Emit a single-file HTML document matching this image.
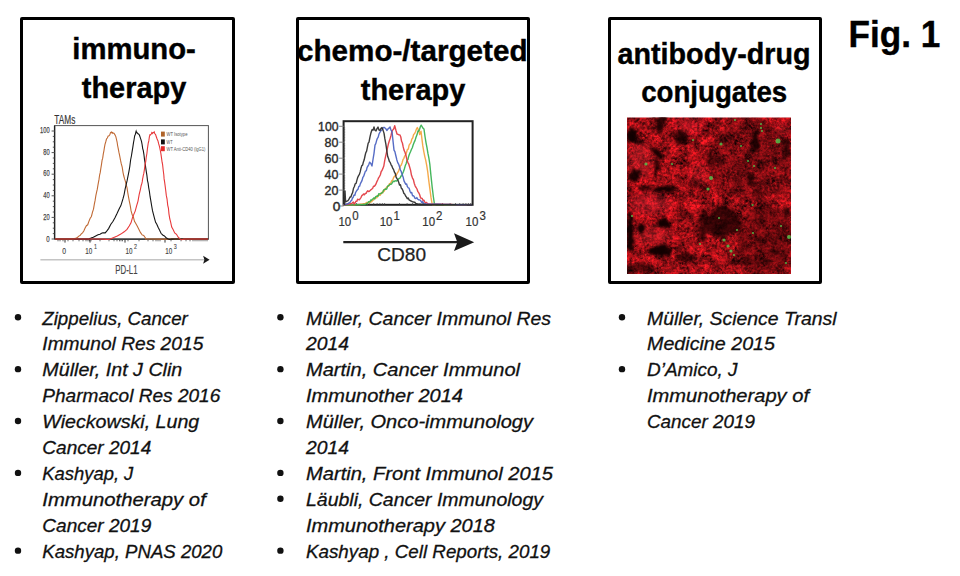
<!DOCTYPE html>
<html><head><meta charset="utf-8"><title>Fig. 1</title>
<style>
html,body{margin:0;padding:0;background:#fff;}
body{width:960px;height:576px;position:relative;overflow:hidden;font-family:"Liberation Sans",sans-serif;}
.box{position:absolute;border:3px solid #000;box-sizing:border-box;border-radius:2px;}
svg{position:absolute;left:0;top:0;overflow:visible;}
</style></head><body>
<div class="box" style="left:20px;top:17px;width:214.5px;height:266.7px"></div>
<div class="box" style="left:296px;top:17px;width:234px;height:266.7px"></div>
<div class="box" style="left:607.5px;top:17px;width:214.5px;height:266.7px"></div>
<svg width="960" height="576" viewBox="0 0 960 576">
<text x="72.3" y="59.4" font-family="Liberation Sans" font-weight="bold" font-size="29" textLength="123.5" lengthAdjust="spacingAndGlyphs" fill="#000" stroke="#000" stroke-width="0.4">immuno-</text>
<text x="81.8" y="98" font-family="Liberation Sans" font-weight="bold" font-size="29" textLength="104.5" lengthAdjust="spacingAndGlyphs" fill="#000" stroke="#000" stroke-width="0.4">therapy</text>
<text x="297" y="61.25" font-family="Liberation Sans" font-weight="bold" font-size="29" textLength="230.5" lengthAdjust="spacingAndGlyphs" fill="#000" stroke="#000" stroke-width="0.4">chemo-/targeted</text>
<text x="360.8" y="100.1" font-family="Liberation Sans" font-weight="bold" font-size="29" textLength="104.5" lengthAdjust="spacingAndGlyphs" fill="#000" stroke="#000" stroke-width="0.4">therapy</text>
<text x="617.5" y="63.5" font-family="Liberation Sans" font-weight="bold" font-size="29" textLength="193" lengthAdjust="spacingAndGlyphs" fill="#000" stroke="#000" stroke-width="0.4">antibody-drug</text>
<text x="641.2" y="101.7" font-family="Liberation Sans" font-weight="bold" font-size="29" textLength="146" lengthAdjust="spacingAndGlyphs" fill="#000" stroke="#000" stroke-width="0.4">conjugates</text>
<text x="848.5" y="46.9" font-family="Liberation Sans" font-weight="bold" font-size="37" textLength="91.7" lengthAdjust="spacingAndGlyphs" fill="#000" stroke="#000" stroke-width="0.4">Fig. 1</text>
<text x="42.3" y="324.50" font-family="Liberation Sans" font-style="italic" font-size="19" textLength="145.5" lengthAdjust="spacingAndGlyphs" fill="#111" stroke="#111" stroke-width="0.3">Zippelius, Cancer</text>
<circle cx="18" cy="317.30" r="3.2" fill="#111"/>
<text x="42.3" y="350.43" font-family="Liberation Sans" font-style="italic" font-size="19" textLength="161" lengthAdjust="spacingAndGlyphs" fill="#111" stroke="#111" stroke-width="0.3">Immunol Res 2015</text>
<text x="42.3" y="376.36" font-family="Liberation Sans" font-style="italic" font-size="19" textLength="140" lengthAdjust="spacingAndGlyphs" fill="#111" stroke="#111" stroke-width="0.3">Müller, Int J Clin</text>
<circle cx="18" cy="369.16" r="3.2" fill="#111"/>
<text x="42.3" y="402.29" font-family="Liberation Sans" font-style="italic" font-size="19" textLength="178" lengthAdjust="spacingAndGlyphs" fill="#111" stroke="#111" stroke-width="0.3">Pharmacol Res 2016</text>
<text x="42.3" y="428.22" font-family="Liberation Sans" font-style="italic" font-size="19" textLength="157" lengthAdjust="spacingAndGlyphs" fill="#111" stroke="#111" stroke-width="0.3">Wieckowski, Lung</text>
<circle cx="18" cy="421.02" r="3.2" fill="#111"/>
<text x="42.3" y="454.15" font-family="Liberation Sans" font-style="italic" font-size="19" textLength="109" lengthAdjust="spacingAndGlyphs" fill="#111" stroke="#111" stroke-width="0.3">Cancer 2014</text>
<text x="42.3" y="480.08" font-family="Liberation Sans" font-style="italic" font-size="19" textLength="91" lengthAdjust="spacingAndGlyphs" fill="#111" stroke="#111" stroke-width="0.3">Kashyap, J</text>
<circle cx="18" cy="472.88" r="3.2" fill="#111"/>
<text x="42.3" y="506.01" font-family="Liberation Sans" font-style="italic" font-size="19" textLength="163.5" lengthAdjust="spacingAndGlyphs" fill="#111" stroke="#111" stroke-width="0.3">Immunotherapy of</text>
<text x="42.3" y="531.94" font-family="Liberation Sans" font-style="italic" font-size="19" textLength="109" lengthAdjust="spacingAndGlyphs" fill="#111" stroke="#111" stroke-width="0.3">Cancer 2019</text>
<text x="42.3" y="557.87" font-family="Liberation Sans" font-style="italic" font-size="19" textLength="180" lengthAdjust="spacingAndGlyphs" fill="#111" stroke="#111" stroke-width="0.3">Kashyap, PNAS 2020</text>
<circle cx="18" cy="550.67" r="3.2" fill="#111"/>
<text x="306" y="324.50" font-family="Liberation Sans" font-style="italic" font-size="19" textLength="245" lengthAdjust="spacingAndGlyphs" fill="#111" stroke="#111" stroke-width="0.3">Müller, Cancer Immunol Res</text>
<circle cx="280.4" cy="317.30" r="3.2" fill="#111"/>
<text x="306" y="350.43" font-family="Liberation Sans" font-style="italic" font-size="19" textLength="43" lengthAdjust="spacingAndGlyphs" fill="#111" stroke="#111" stroke-width="0.3">2014</text>
<text x="306" y="376.36" font-family="Liberation Sans" font-style="italic" font-size="19" textLength="214" lengthAdjust="spacingAndGlyphs" fill="#111" stroke="#111" stroke-width="0.3">Martin, Cancer Immunol</text>
<circle cx="280.4" cy="369.16" r="3.2" fill="#111"/>
<text x="306" y="402.29" font-family="Liberation Sans" font-style="italic" font-size="19" textLength="157" lengthAdjust="spacingAndGlyphs" fill="#111" stroke="#111" stroke-width="0.3">Immunother 2014</text>
<text x="306" y="428.22" font-family="Liberation Sans" font-style="italic" font-size="19" textLength="227" lengthAdjust="spacingAndGlyphs" fill="#111" stroke="#111" stroke-width="0.3">Müller, Onco-immunology</text>
<circle cx="280.4" cy="421.02" r="3.2" fill="#111"/>
<text x="306" y="454.15" font-family="Liberation Sans" font-style="italic" font-size="19" textLength="43" lengthAdjust="spacingAndGlyphs" fill="#111" stroke="#111" stroke-width="0.3">2014</text>
<text x="306" y="480.08" font-family="Liberation Sans" font-style="italic" font-size="19" textLength="247" lengthAdjust="spacingAndGlyphs" fill="#111" stroke="#111" stroke-width="0.3">Martin, Front Immunol 2015</text>
<circle cx="280.4" cy="472.88" r="3.2" fill="#111"/>
<text x="306" y="506.01" font-family="Liberation Sans" font-style="italic" font-size="19" textLength="237" lengthAdjust="spacingAndGlyphs" fill="#111" stroke="#111" stroke-width="0.3">Läubli, Cancer Immunology</text>
<circle cx="280.4" cy="498.81" r="3.2" fill="#111"/>
<text x="306" y="531.94" font-family="Liberation Sans" font-style="italic" font-size="19" textLength="189" lengthAdjust="spacingAndGlyphs" fill="#111" stroke="#111" stroke-width="0.3">Immunotherapy 2018</text>
<text x="306" y="557.87" font-family="Liberation Sans" font-style="italic" font-size="19" textLength="244.3" lengthAdjust="spacingAndGlyphs" fill="#111" stroke="#111" stroke-width="0.3">Kashyap , Cell Reports, 2019</text>
<circle cx="280.4" cy="550.67" r="3.2" fill="#111"/>
<text x="647" y="324.50" font-family="Liberation Sans" font-style="italic" font-size="19" textLength="189.5" lengthAdjust="spacingAndGlyphs" fill="#111" stroke="#111" stroke-width="0.3">Müller, Science Transl</text>
<circle cx="622" cy="317.30" r="3.2" fill="#111"/>
<text x="647" y="350.43" font-family="Liberation Sans" font-style="italic" font-size="19" textLength="128" lengthAdjust="spacingAndGlyphs" fill="#111" stroke="#111" stroke-width="0.3">Medicine 2015</text>
<text x="647" y="376.36" font-family="Liberation Sans" font-style="italic" font-size="19" textLength="90.5" lengthAdjust="spacingAndGlyphs" fill="#111" stroke="#111" stroke-width="0.3">D’Amico, J</text>
<circle cx="622" cy="369.16" r="3.2" fill="#111"/>
<text x="647" y="402.29" font-family="Liberation Sans" font-style="italic" font-size="19" textLength="162" lengthAdjust="spacingAndGlyphs" fill="#111" stroke="#111" stroke-width="0.3">Immunotherapy of</text>
<text x="647" y="428.22" font-family="Liberation Sans" font-style="italic" font-size="19" textLength="108" lengthAdjust="spacingAndGlyphs" fill="#111" stroke="#111" stroke-width="0.3">Cancer 2019</text>
<text x="54.3" y="123.6" font-family="Liberation Sans" font-size="12.3" textLength="21" lengthAdjust="spacingAndGlyphs" fill="#333" stroke="#333" stroke-width="0.15">TAMs</text>
<rect x="54.6" y="125.6" width="153.8" height="113.5" fill="none" stroke="#555" stroke-width="1"/>
<line x1="54.6" y1="125.6" x2="54.6" y2="239.1" stroke="#222" stroke-width="1.4"/>
<line x1="54.6" y1="239.1" x2="208.4" y2="239.1" stroke="#222" stroke-width="1.4"/>
<line x1="51.6" y1="239.0" x2="54.6" y2="239.0" stroke="#555" stroke-width="1"/>
<text x="46.2" y="241.8" font-family="Liberation Sans" font-size="9.6" textLength="3.4" lengthAdjust="spacingAndGlyphs" fill="#444" stroke="#444" stroke-width="0.25">0</text>
<line x1="51.6" y1="217.4" x2="54.6" y2="217.4" stroke="#555" stroke-width="1"/>
<text x="43.2" y="220.0" font-family="Liberation Sans" font-size="9.6" textLength="6.4" lengthAdjust="spacingAndGlyphs" fill="#444" stroke="#444" stroke-width="0.25">20</text>
<line x1="51.6" y1="195.8" x2="54.6" y2="195.8" stroke="#555" stroke-width="1"/>
<text x="43.2" y="198.2" font-family="Liberation Sans" font-size="9.6" textLength="6.4" lengthAdjust="spacingAndGlyphs" fill="#444" stroke="#444" stroke-width="0.25">40</text>
<line x1="51.6" y1="174.2" x2="54.6" y2="174.2" stroke="#555" stroke-width="1"/>
<text x="43.2" y="176.3" font-family="Liberation Sans" font-size="9.6" textLength="6.4" lengthAdjust="spacingAndGlyphs" fill="#444" stroke="#444" stroke-width="0.25">60</text>
<line x1="51.6" y1="152.6" x2="54.6" y2="152.6" stroke="#555" stroke-width="1"/>
<text x="43.2" y="154.5" font-family="Liberation Sans" font-size="9.6" textLength="6.4" lengthAdjust="spacingAndGlyphs" fill="#444" stroke="#444" stroke-width="0.25">80</text>
<line x1="51.6" y1="131.0" x2="54.6" y2="131.0" stroke="#555" stroke-width="1"/>
<text x="40.0" y="132.6" font-family="Liberation Sans" font-size="9.6" textLength="9.6" lengthAdjust="spacingAndGlyphs" fill="#444" stroke="#444" stroke-width="0.25">100</text>
<line x1="52.800000000000004" y1="233.6" x2="54.6" y2="233.6" stroke="#444" stroke-width="0.9"/>
<line x1="52.800000000000004" y1="228.2" x2="54.6" y2="228.2" stroke="#444" stroke-width="0.9"/>
<line x1="52.800000000000004" y1="222.8" x2="54.6" y2="222.8" stroke="#444" stroke-width="0.9"/>
<line x1="52.800000000000004" y1="212.0" x2="54.6" y2="212.0" stroke="#444" stroke-width="0.9"/>
<line x1="52.800000000000004" y1="206.6" x2="54.6" y2="206.6" stroke="#444" stroke-width="0.9"/>
<line x1="52.800000000000004" y1="201.2" x2="54.6" y2="201.2" stroke="#444" stroke-width="0.9"/>
<line x1="52.800000000000004" y1="190.4" x2="54.6" y2="190.4" stroke="#444" stroke-width="0.9"/>
<line x1="52.800000000000004" y1="185.0" x2="54.6" y2="185.0" stroke="#444" stroke-width="0.9"/>
<line x1="52.800000000000004" y1="179.6" x2="54.6" y2="179.6" stroke="#444" stroke-width="0.9"/>
<line x1="52.800000000000004" y1="168.8" x2="54.6" y2="168.8" stroke="#444" stroke-width="0.9"/>
<line x1="52.800000000000004" y1="163.4" x2="54.6" y2="163.4" stroke="#444" stroke-width="0.9"/>
<line x1="52.800000000000004" y1="158.0" x2="54.6" y2="158.0" stroke="#444" stroke-width="0.9"/>
<line x1="52.800000000000004" y1="147.2" x2="54.6" y2="147.2" stroke="#444" stroke-width="0.9"/>
<line x1="52.800000000000004" y1="141.8" x2="54.6" y2="141.8" stroke="#444" stroke-width="0.9"/>
<line x1="52.800000000000004" y1="136.4" x2="54.6" y2="136.4" stroke="#444" stroke-width="0.9"/>
<line x1="58" y1="239.1" x2="58" y2="241.29999999999998" stroke="#444" stroke-width="0.8"/>
<line x1="60" y1="239.1" x2="60" y2="241.29999999999998" stroke="#444" stroke-width="0.8"/>
<line x1="63" y1="239.1" x2="63" y2="241.29999999999998" stroke="#444" stroke-width="0.8"/>
<line x1="68" y1="239.1" x2="68" y2="241.29999999999998" stroke="#444" stroke-width="0.8"/>
<line x1="73" y1="239.1" x2="73" y2="241.29999999999998" stroke="#444" stroke-width="0.8"/>
<line x1="79" y1="239.1" x2="79" y2="241.29999999999998" stroke="#444" stroke-width="0.8"/>
<line x1="83" y1="239.1" x2="83" y2="241.29999999999998" stroke="#444" stroke-width="0.8"/>
<line x1="86" y1="239.1" x2="86" y2="241.29999999999998" stroke="#444" stroke-width="0.8"/>
<line x1="88" y1="239.1" x2="88" y2="241.29999999999998" stroke="#444" stroke-width="0.8"/>
<line x1="89.5" y1="239.1" x2="89.5" y2="241.29999999999998" stroke="#444" stroke-width="0.8"/>
<line x1="91" y1="239.1" x2="91" y2="241.29999999999998" stroke="#444" stroke-width="0.8"/>
<line x1="100" y1="239.1" x2="100" y2="241.29999999999998" stroke="#444" stroke-width="0.8"/>
<line x1="109" y1="239.1" x2="109" y2="241.29999999999998" stroke="#444" stroke-width="0.8"/>
<line x1="114" y1="239.1" x2="114" y2="241.29999999999998" stroke="#444" stroke-width="0.8"/>
<line x1="117" y1="239.1" x2="117" y2="241.29999999999998" stroke="#444" stroke-width="0.8"/>
<line x1="119.5" y1="239.1" x2="119.5" y2="241.29999999999998" stroke="#444" stroke-width="0.8"/>
<line x1="121" y1="239.1" x2="121" y2="241.29999999999998" stroke="#444" stroke-width="0.8"/>
<line x1="122.5" y1="239.1" x2="122.5" y2="241.29999999999998" stroke="#444" stroke-width="0.8"/>
<line x1="128" y1="239.1" x2="128" y2="241.29999999999998" stroke="#444" stroke-width="0.8"/>
<line x1="139" y1="239.1" x2="139" y2="241.29999999999998" stroke="#444" stroke-width="0.8"/>
<line x1="148" y1="239.1" x2="148" y2="241.29999999999998" stroke="#444" stroke-width="0.8"/>
<line x1="153" y1="239.1" x2="153" y2="241.29999999999998" stroke="#444" stroke-width="0.8"/>
<line x1="156" y1="239.1" x2="156" y2="241.29999999999998" stroke="#444" stroke-width="0.8"/>
<line x1="158" y1="239.1" x2="158" y2="241.29999999999998" stroke="#444" stroke-width="0.8"/>
<line x1="160" y1="239.1" x2="160" y2="241.29999999999998" stroke="#444" stroke-width="0.8"/>
<line x1="171" y1="239.1" x2="171" y2="241.29999999999998" stroke="#444" stroke-width="0.8"/>
<line x1="181" y1="239.1" x2="181" y2="241.29999999999998" stroke="#444" stroke-width="0.8"/>
<line x1="186" y1="239.1" x2="186" y2="241.29999999999998" stroke="#444" stroke-width="0.8"/>
<line x1="190" y1="239.1" x2="190" y2="241.29999999999998" stroke="#444" stroke-width="0.8"/>
<line x1="193" y1="239.1" x2="193" y2="241.29999999999998" stroke="#444" stroke-width="0.8"/>
<line x1="195" y1="239.1" x2="195" y2="241.29999999999998" stroke="#444" stroke-width="0.8"/>
<line x1="197" y1="239.1" x2="197" y2="241.29999999999998" stroke="#444" stroke-width="0.8"/>
<line x1="199" y1="239.1" x2="199" y2="241.29999999999998" stroke="#444" stroke-width="0.8"/>
<line x1="201" y1="239.1" x2="201" y2="241.29999999999998" stroke="#444" stroke-width="0.8"/>
<line x1="203" y1="239.1" x2="203" y2="241.29999999999998" stroke="#444" stroke-width="0.8"/>
<line x1="205" y1="239.1" x2="205" y2="241.29999999999998" stroke="#444" stroke-width="0.8"/>
<line x1="207" y1="239.1" x2="207" y2="241.29999999999998" stroke="#444" stroke-width="0.8"/>
<line x1="65" y1="239.1" x2="65" y2="242.6" stroke="#333" stroke-width="1"/>
<line x1="90" y1="239.1" x2="90" y2="242.6" stroke="#333" stroke-width="1"/>
<line x1="125" y1="239.1" x2="125" y2="242.6" stroke="#333" stroke-width="1"/>
<line x1="165" y1="239.1" x2="165" y2="242.6" stroke="#333" stroke-width="1"/>
<text x="62.3" y="254" font-family="Liberation Sans" font-size="9.4" textLength="3.8" lengthAdjust="spacingAndGlyphs" fill="#444" stroke="#444" stroke-width="0.15">0</text>
<text x="85.3" y="254" font-family="Liberation Sans" font-size="9.4" textLength="7" lengthAdjust="spacingAndGlyphs" fill="#444" stroke="#444" stroke-width="0.15">10</text>
<text x="93.89999999999999" y="248.9" font-family="Liberation Sans" font-size="7" textLength="3" lengthAdjust="spacingAndGlyphs" fill="#444" stroke="#444" stroke-width="0.1">1</text>
<text x="125.4" y="254" font-family="Liberation Sans" font-size="9.4" textLength="7" lengthAdjust="spacingAndGlyphs" fill="#444" stroke="#444" stroke-width="0.15">10</text>
<text x="134.0" y="248.9" font-family="Liberation Sans" font-size="7" textLength="3" lengthAdjust="spacingAndGlyphs" fill="#444" stroke="#444" stroke-width="0.1">2</text>
<text x="165.2" y="254" font-family="Liberation Sans" font-size="9.4" textLength="7" lengthAdjust="spacingAndGlyphs" fill="#444" stroke="#444" stroke-width="0.15">10</text>
<text x="173.79999999999998" y="248.9" font-family="Liberation Sans" font-size="7" textLength="3" lengthAdjust="spacingAndGlyphs" fill="#444" stroke="#444" stroke-width="0.1">3</text>
<line x1="40.4" y1="259.7" x2="205" y2="259.7" stroke="#c4c4c4" stroke-width="1.6"/>
<path d="M203.1,255.8 L209.6,259.8 L203.1,263.7 L204.4,259.8 Z" fill="#1a1a1a"/>
<text x="115.3" y="274.3" font-family="Liberation Sans" font-size="13" textLength="22.3" lengthAdjust="spacingAndGlyphs" fill="#444" stroke="#444" stroke-width="0.15">PD-L1</text>
<rect x="161" y="131.6" width="3.8" height="5" fill="#b0642a"/>
<text x="166.5" y="136.2" font-family="Liberation Sans" font-size="5.2" textLength="21" lengthAdjust="spacingAndGlyphs" fill="#555">WT Isotype</text>
<rect x="161" y="139.4" width="3.8" height="5" fill="#111"/>
<text x="166.5" y="144.0" font-family="Liberation Sans" font-size="5.2" textLength="6" lengthAdjust="spacingAndGlyphs" fill="#555">WT</text>
<rect x="161" y="146.2" width="3.8" height="5" fill="#e52a2a"/>
<text x="166.5" y="150.79999999999998" font-family="Liberation Sans" font-size="5.2" textLength="39" lengthAdjust="spacingAndGlyphs" fill="#555">WT Anti-CD40 (lgG1)</text>
<path d="M55.0,239.0 56.9,239.0 59.6,239.0 62.7,239.0 65.6,239.0 68.0,239.0 69.6,239.0 70.9,239.0 71.9,239.0 72.9,239.0 74.0,238.7 75.2,238.3 76.4,237.9 77.6,237.3 78.8,236.1 80.0,235.6 81.3,233.9 82.5,232.8 83.8,231.0 85.1,228.0 86.4,225.7 87.7,224.8 89.0,221.1 90.2,218.2 91.4,216.5 92.5,212.2 93.5,209.2 94.3,204.4 95.1,200.4 95.9,195.3 96.6,192.2 97.3,189.2 97.9,185.4 98.4,182.7 99.0,179.4 99.6,175.0 100.2,172.7 100.8,168.7 101.5,164.4 102.1,160.2 102.7,158.2 103.3,153.9 103.9,150.8 104.4,147.7 105.0,144.3 105.7,142.0 106.5,139.0 107.3,138.0 108.2,136.0 109.0,135.8 109.8,134.8 110.5,132.6 111.1,132.2 111.6,132.0 112.2,133.3 112.8,132.6 113.4,133.3 114.0,133.3 114.7,134.4 115.3,135.4 115.9,136.9 116.5,139.5 117.1,142.0 117.6,145.5 118.2,148.3 118.9,152.2 119.7,155.8 120.5,160.2 121.3,163.9 122.2,167.2 123.0,172.3 123.8,176.0 124.6,178.9 125.4,181.4 126.2,184.8 127.0,187.5 127.8,192.8 128.5,196.9 129.3,201.1 130.2,205.3 131.1,210.9 132.2,214.9 133.3,216.8 134.5,221.3 135.8,223.6 137.2,226.0 138.7,228.9 140.4,232.4 142.1,234.9 143.7,235.4 145.3,237.7 145.9,238.6 145.7,239.0 145.8,239.0 147.5,239.0 152.0,239.0 160.9,239.1 173.5,239.1 187.3,239.1 199.6,239.0 208.0,239.0" fill="none" stroke="#c06a35" stroke-width="1.1"/>
<path d="M55.0,239.0 59.0,239.0 64.8,239.0 71.3,239.0 77.4,239.0 82.0,239.0 84.6,239.0 86.0,239.1 86.9,239.1 87.7,239.0 89.0,238.7 91.0,238.1 93.3,237.3 95.7,235.9 98.0,234.7 100.0,234.3 101.6,233.3 102.8,232.7 104.0,232.9 105.2,232.9 106.7,231.1 108.6,228.6 110.7,224.5 112.9,221.5 115.1,217.4 116.9,213.8 118.4,210.5 119.7,207.7 120.8,205.8 121.9,202.3 123.0,198.7 124.1,194.6 125.1,189.2 126.1,184.8 127.1,180.7 128.0,176.2 128.9,171.6 129.8,166.5 130.6,160.0 131.4,156.0 132.1,151.7 132.8,147.3 133.5,142.7 134.1,139.5 134.7,135.7 135.2,134.9 135.6,133.3 135.9,131.9 136.1,131.3 136.4,132.5 136.8,132.2 137.4,133.2 138.0,133.8 138.8,134.2 139.5,135.3 140.2,137.4 140.8,139.2 141.5,141.3 142.1,144.5 142.7,148.6 143.3,150.6 143.9,154.3 144.5,159.3 145.1,162.9 145.7,167.6 146.3,171.6 146.9,175.4 147.5,180.6 148.1,183.2 148.7,187.6 149.4,191.5 150.1,196.7 150.8,200.7 151.6,205.5 152.5,210.7 153.4,214.1 154.5,218.3 155.6,222.4 156.8,224.3 158.1,227.2 159.5,230.1 161.0,233.3 162.7,235.0 164.4,235.9 166.1,237.7 167.7,238.7 168.8,239.3 169.5,239.4 170.3,239.3 171.9,239.1 175.0,239.0 180.5,239.0 187.9,239.0 195.9,239.0 203.1,239.0 208.0,239.0" fill="none" stroke="#151515" stroke-width="1.1"/>
<path d="M55.0,239.0 61.7,239.0 71.4,239.0 82.3,239.0 92.5,239.0 100.0,239.0 104.3,239.1 106.5,239.4 107.7,239.5 108.8,239.4 110.8,238.7 113.8,237.4 117.3,236.0 120.8,234.1 124.2,231.8 127.0,229.4 129.2,226.0 131.0,222.9 132.5,217.6 133.8,214.4 135.2,211.1 136.6,205.9 138.0,201.1 139.2,194.3 140.3,190.0 141.2,185.5 141.9,183.3 142.3,181.4 142.6,178.9 142.9,177.6 143.3,175.4 143.8,173.4 144.4,169.6 145.0,164.7 145.7,162.0 146.3,156.8 146.9,153.5 147.5,148.1 148.2,143.4 148.8,140.9 149.4,136.7 150.0,134.7 150.6,134.8 151.2,134.0 151.8,132.6 152.4,133.5 153.0,132.5 153.6,132.6 154.2,131.9 154.8,133.8 155.5,134.4 156.3,136.7 157.1,139.0 157.9,140.7 158.7,143.9 159.5,146.7 160.2,150.0 160.9,153.6 161.5,157.8 162.1,162.2 162.6,164.7 163.1,169.2 163.4,171.7 163.8,174.7 164.1,178.9 164.6,181.9 165.1,185.6 165.7,190.3 166.3,195.4 167.0,198.8 167.7,205.1 168.4,208.0 169.0,214.1 169.8,219.0 170.6,221.9 171.7,227.1 173.1,229.6 174.7,232.9 176.5,234.3 178.2,237.2 179.8,238.7 180.9,239.5 181.7,239.7 182.5,239.5 183.8,239.1 186.0,239.0 189.7,239.0 194.7,239.0 200.0,239.0 204.8,239.0 208.0,239.0" fill="none" stroke="#e8383a" stroke-width="1.1"/>
<rect x="343.6" y="121.2" width="129.0" height="83.60000000000001" fill="none" stroke="#222" stroke-width="2"/>
<line x1="339.1" y1="206.0" x2="343.6" y2="206.0" stroke="#888" stroke-width="1"/>
<text x="332.7" y="210.8" font-family="Liberation Sans" font-size="13.4" textLength="7.6" lengthAdjust="spacingAndGlyphs" fill="#2a2a2a" stroke="#2a2a2a" stroke-width="0.4">0</text>
<line x1="339.1" y1="190.1" x2="343.6" y2="190.1" stroke="#888" stroke-width="1"/>
<text x="324.6" y="194.9" font-family="Liberation Sans" font-size="13.4" textLength="13.9" lengthAdjust="spacingAndGlyphs" fill="#2a2a2a" stroke="#2a2a2a" stroke-width="0.4">20</text>
<line x1="339.1" y1="174.1" x2="343.6" y2="174.1" stroke="#888" stroke-width="1"/>
<text x="324.6" y="178.9" font-family="Liberation Sans" font-size="13.4" textLength="13.9" lengthAdjust="spacingAndGlyphs" fill="#2a2a2a" stroke="#2a2a2a" stroke-width="0.4">40</text>
<line x1="339.1" y1="158.2" x2="343.6" y2="158.2" stroke="#888" stroke-width="1"/>
<text x="324.6" y="163.0" font-family="Liberation Sans" font-size="13.4" textLength="13.9" lengthAdjust="spacingAndGlyphs" fill="#2a2a2a" stroke="#2a2a2a" stroke-width="0.4">60</text>
<line x1="339.1" y1="142.2" x2="343.6" y2="142.2" stroke="#888" stroke-width="1"/>
<text x="324.6" y="147.0" font-family="Liberation Sans" font-size="13.4" textLength="13.9" lengthAdjust="spacingAndGlyphs" fill="#2a2a2a" stroke="#2a2a2a" stroke-width="0.4">80</text>
<line x1="339.1" y1="126.3" x2="343.6" y2="126.3" stroke="#888" stroke-width="1"/>
<text x="318.1" y="131.1" font-family="Liberation Sans" font-size="13.4" textLength="20.4" lengthAdjust="spacingAndGlyphs" fill="#2a2a2a" stroke="#2a2a2a" stroke-width="0.4">100</text>
<line x1="343.6" y1="204.4" x2="345.20000000000005" y2="204.4" stroke="#555" stroke-width="0.7"/>
<line x1="343.6" y1="202.8" x2="345.20000000000005" y2="202.8" stroke="#555" stroke-width="0.7"/>
<line x1="343.6" y1="201.2" x2="345.20000000000005" y2="201.2" stroke="#555" stroke-width="0.7"/>
<line x1="343.6" y1="199.6" x2="345.20000000000005" y2="199.6" stroke="#555" stroke-width="0.7"/>
<line x1="343.6" y1="198.0" x2="345.20000000000005" y2="198.0" stroke="#555" stroke-width="0.7"/>
<line x1="343.6" y1="196.4" x2="345.20000000000005" y2="196.4" stroke="#555" stroke-width="0.7"/>
<line x1="343.6" y1="194.8" x2="345.20000000000005" y2="194.8" stroke="#555" stroke-width="0.7"/>
<line x1="343.6" y1="193.2" x2="345.20000000000005" y2="193.2" stroke="#555" stroke-width="0.7"/>
<line x1="343.6" y1="191.7" x2="345.20000000000005" y2="191.7" stroke="#555" stroke-width="0.7"/>
<line x1="343.6" y1="188.5" x2="345.20000000000005" y2="188.5" stroke="#555" stroke-width="0.7"/>
<line x1="343.6" y1="186.9" x2="345.20000000000005" y2="186.9" stroke="#555" stroke-width="0.7"/>
<line x1="343.6" y1="185.3" x2="345.20000000000005" y2="185.3" stroke="#555" stroke-width="0.7"/>
<line x1="343.6" y1="183.7" x2="345.20000000000005" y2="183.7" stroke="#555" stroke-width="0.7"/>
<line x1="343.6" y1="182.1" x2="345.20000000000005" y2="182.1" stroke="#555" stroke-width="0.7"/>
<line x1="343.6" y1="180.5" x2="345.20000000000005" y2="180.5" stroke="#555" stroke-width="0.7"/>
<line x1="343.6" y1="178.9" x2="345.20000000000005" y2="178.9" stroke="#555" stroke-width="0.7"/>
<line x1="343.6" y1="177.3" x2="345.20000000000005" y2="177.3" stroke="#555" stroke-width="0.7"/>
<line x1="343.6" y1="175.7" x2="345.20000000000005" y2="175.7" stroke="#555" stroke-width="0.7"/>
<line x1="343.6" y1="172.5" x2="345.20000000000005" y2="172.5" stroke="#555" stroke-width="0.7"/>
<line x1="343.6" y1="170.9" x2="345.20000000000005" y2="170.9" stroke="#555" stroke-width="0.7"/>
<line x1="343.6" y1="169.3" x2="345.20000000000005" y2="169.3" stroke="#555" stroke-width="0.7"/>
<line x1="343.6" y1="167.7" x2="345.20000000000005" y2="167.7" stroke="#555" stroke-width="0.7"/>
<line x1="343.6" y1="166.2" x2="345.20000000000005" y2="166.2" stroke="#555" stroke-width="0.7"/>
<line x1="343.6" y1="164.6" x2="345.20000000000005" y2="164.6" stroke="#555" stroke-width="0.7"/>
<line x1="343.6" y1="163.0" x2="345.20000000000005" y2="163.0" stroke="#555" stroke-width="0.7"/>
<line x1="343.6" y1="161.4" x2="345.20000000000005" y2="161.4" stroke="#555" stroke-width="0.7"/>
<line x1="343.6" y1="159.8" x2="345.20000000000005" y2="159.8" stroke="#555" stroke-width="0.7"/>
<line x1="343.6" y1="156.6" x2="345.20000000000005" y2="156.6" stroke="#555" stroke-width="0.7"/>
<line x1="343.6" y1="155.0" x2="345.20000000000005" y2="155.0" stroke="#555" stroke-width="0.7"/>
<line x1="343.6" y1="153.4" x2="345.20000000000005" y2="153.4" stroke="#555" stroke-width="0.7"/>
<line x1="343.6" y1="151.8" x2="345.20000000000005" y2="151.8" stroke="#555" stroke-width="0.7"/>
<line x1="343.6" y1="150.2" x2="345.20000000000005" y2="150.2" stroke="#555" stroke-width="0.7"/>
<line x1="343.6" y1="148.6" x2="345.20000000000005" y2="148.6" stroke="#555" stroke-width="0.7"/>
<line x1="343.6" y1="147.0" x2="345.20000000000005" y2="147.0" stroke="#555" stroke-width="0.7"/>
<line x1="343.6" y1="145.4" x2="345.20000000000005" y2="145.4" stroke="#555" stroke-width="0.7"/>
<line x1="343.6" y1="143.8" x2="345.20000000000005" y2="143.8" stroke="#555" stroke-width="0.7"/>
<line x1="343.6" y1="140.6" x2="345.20000000000005" y2="140.6" stroke="#555" stroke-width="0.7"/>
<line x1="343.6" y1="139.1" x2="345.20000000000005" y2="139.1" stroke="#555" stroke-width="0.7"/>
<line x1="343.6" y1="137.5" x2="345.20000000000005" y2="137.5" stroke="#555" stroke-width="0.7"/>
<line x1="343.6" y1="135.9" x2="345.20000000000005" y2="135.9" stroke="#555" stroke-width="0.7"/>
<line x1="343.6" y1="134.3" x2="345.20000000000005" y2="134.3" stroke="#555" stroke-width="0.7"/>
<line x1="343.6" y1="132.7" x2="345.20000000000005" y2="132.7" stroke="#555" stroke-width="0.7"/>
<line x1="343.6" y1="131.1" x2="345.20000000000005" y2="131.1" stroke="#555" stroke-width="0.7"/>
<line x1="343.6" y1="129.5" x2="345.20000000000005" y2="129.5" stroke="#555" stroke-width="0.7"/>
<line x1="343.6" y1="127.9" x2="345.20000000000005" y2="127.9" stroke="#555" stroke-width="0.7"/>
<line x1="356.5" y1="204.8" x2="356.5" y2="203.0" stroke="#444" stroke-width="0.7"/>
<line x1="364.1" y1="204.8" x2="364.1" y2="203.0" stroke="#444" stroke-width="0.7"/>
<line x1="369.5" y1="204.8" x2="369.5" y2="203.0" stroke="#444" stroke-width="0.7"/>
<line x1="373.7" y1="204.8" x2="373.7" y2="203.0" stroke="#444" stroke-width="0.7"/>
<line x1="377.1" y1="204.8" x2="377.1" y2="203.0" stroke="#444" stroke-width="0.7"/>
<line x1="379.9" y1="204.8" x2="379.9" y2="203.0" stroke="#444" stroke-width="0.7"/>
<line x1="382.4" y1="204.8" x2="382.4" y2="203.0" stroke="#444" stroke-width="0.7"/>
<line x1="384.6" y1="204.8" x2="384.6" y2="203.0" stroke="#444" stroke-width="0.7"/>
<line x1="399.5" y1="204.8" x2="399.5" y2="203.0" stroke="#444" stroke-width="0.7"/>
<line x1="407.1" y1="204.8" x2="407.1" y2="203.0" stroke="#444" stroke-width="0.7"/>
<line x1="412.5" y1="204.8" x2="412.5" y2="203.0" stroke="#444" stroke-width="0.7"/>
<line x1="416.7" y1="204.8" x2="416.7" y2="203.0" stroke="#444" stroke-width="0.7"/>
<line x1="420.1" y1="204.8" x2="420.1" y2="203.0" stroke="#444" stroke-width="0.7"/>
<line x1="422.9" y1="204.8" x2="422.9" y2="203.0" stroke="#444" stroke-width="0.7"/>
<line x1="425.4" y1="204.8" x2="425.4" y2="203.0" stroke="#444" stroke-width="0.7"/>
<line x1="427.6" y1="204.8" x2="427.6" y2="203.0" stroke="#444" stroke-width="0.7"/>
<line x1="442.5" y1="204.8" x2="442.5" y2="203.0" stroke="#444" stroke-width="0.7"/>
<line x1="450.1" y1="204.8" x2="450.1" y2="203.0" stroke="#444" stroke-width="0.7"/>
<line x1="455.5" y1="204.8" x2="455.5" y2="203.0" stroke="#444" stroke-width="0.7"/>
<line x1="459.7" y1="204.8" x2="459.7" y2="203.0" stroke="#444" stroke-width="0.7"/>
<line x1="463.1" y1="204.8" x2="463.1" y2="203.0" stroke="#444" stroke-width="0.7"/>
<line x1="465.9" y1="204.8" x2="465.9" y2="203.0" stroke="#444" stroke-width="0.7"/>
<line x1="468.4" y1="204.8" x2="468.4" y2="203.0" stroke="#444" stroke-width="0.7"/>
<line x1="470.6" y1="204.8" x2="470.6" y2="203.0" stroke="#444" stroke-width="0.7"/>
<text x="338.4" y="226.4" font-family="Liberation Sans" font-size="12.4" textLength="12.8" lengthAdjust="spacingAndGlyphs" fill="#333" stroke="#333" stroke-width="0.2">10</text>
<text x="352.2" y="219.8" font-family="Liberation Sans" font-size="13.4" textLength="6.4" lengthAdjust="spacingAndGlyphs" fill="#333" stroke="#333" stroke-width="0.2">0</text>
<text x="379.7" y="226.4" font-family="Liberation Sans" font-size="12.4" textLength="12.8" lengthAdjust="spacingAndGlyphs" fill="#333" stroke="#333" stroke-width="0.2">10</text>
<text x="393.5" y="219.8" font-family="Liberation Sans" font-size="13.4" textLength="6.4" lengthAdjust="spacingAndGlyphs" fill="#333" stroke="#333" stroke-width="0.2">1</text>
<text x="422.3" y="226.4" font-family="Liberation Sans" font-size="12.4" textLength="12.8" lengthAdjust="spacingAndGlyphs" fill="#333" stroke="#333" stroke-width="0.2">10</text>
<text x="436.1" y="219.8" font-family="Liberation Sans" font-size="13.4" textLength="6.4" lengthAdjust="spacingAndGlyphs" fill="#333" stroke="#333" stroke-width="0.2">2</text>
<text x="465.6" y="226.4" font-family="Liberation Sans" font-size="12.4" textLength="12.8" lengthAdjust="spacingAndGlyphs" fill="#333" stroke="#333" stroke-width="0.2">10</text>
<text x="479.40000000000003" y="219.8" font-family="Liberation Sans" font-size="13.4" textLength="6.4" lengthAdjust="spacingAndGlyphs" fill="#333" stroke="#333" stroke-width="0.2">3</text>
<line x1="343.3" y1="242.2" x2="458" y2="242.2" stroke="#222" stroke-width="2.2"/>
<path d="M454,233.2 L474.2,242.3 L454,251.1 L457.3,242.3 Z" fill="#1a1a1a"/>
<text x="377.3" y="260.8" font-family="Liberation Sans" font-size="18.6" textLength="48.8" lengthAdjust="spacingAndGlyphs" fill="#222" stroke="#222" stroke-width="0.25">CD80</text>
<path d="M343.5,205.0 344.3,205.0 345.1,204.9 346.0,204.9 346.8,204.9 347.6,204.9 348.4,204.8 349.3,204.8 350.1,204.8 350.9,204.8 351.8,204.8 352.6,204.7 353.4,204.7 354.2,204.7 355.1,204.7 355.9,204.6 356.7,204.6 357.5,204.6 358.4,204.6 359.2,204.5 360.0,204.5 360.8,204.3 361.7,204.2 362.5,204.0 363.4,203.9 364.2,203.7 365.1,203.6 365.9,203.0 366.8,202.4 367.6,203.5 368.5,201.9 369.3,202.9 370.2,202.3 371.0,201.4 371.8,201.8 372.7,199.9 373.5,200.1 374.3,198.4 375.2,197.7 376.0,197.7 376.9,197.9 377.7,195.5 378.5,195.0 379.4,195.2 380.2,195.2 381.0,193.5 381.9,192.3 382.7,193.0 383.6,190.0 384.4,191.1 385.2,189.0 386.1,187.9 386.9,187.1 387.7,186.4 388.6,186.4 389.4,183.7 390.3,183.5 391.1,182.4 391.9,180.6 392.8,179.9 393.6,177.5 394.4,176.4 395.3,175.5 396.1,175.5 397.0,173.7 397.8,172.3 398.7,170.8 399.5,168.4 400.4,166.0 401.3,165.1 402.1,162.8 403.0,159.6 403.9,158.3 404.7,156.1 405.6,154.9 406.5,152.6 407.4,149.5 408.3,149.2 409.1,145.1 410.0,143.8 410.9,142.6 411.8,139.2 412.7,138.0 413.6,134.6 414.5,133.8 415.5,131.8 416.4,129.1 417.3,127.5 418.5,129.9 419.7,134.5 421.0,131.2 421.9,138.7 422.8,145.9 423.8,151.6 424.8,156.6 425.7,160.2 426.7,165.4 427.7,171.6 428.8,180.8 429.8,188.4 431.0,197.4 432.2,204.5 433.0,204.5 433.8,204.5 434.6,204.5 435.4,204.5 436.3,204.6 437.1,204.6 437.9,204.6 438.7,204.6 439.5,204.6 440.3,204.6 441.1,204.6 441.9,204.6 442.8,204.6 443.6,204.6 444.4,204.7 445.2,204.7 446.0,204.7 446.8,204.7 447.6,204.7 448.4,204.7 449.3,204.7 450.1,204.7 450.9,204.7 451.7,204.7 452.5,204.8 453.3,204.8 454.1,204.8 454.9,204.8 455.8,204.8 456.6,204.8 457.4,204.8 458.2,204.8 459.0,204.8 459.8,204.8 460.6,204.9 461.4,204.9 462.3,204.9 463.1,204.9 463.9,204.9 464.7,204.9 465.5,204.9 466.3,204.9 467.1,204.9 467.9,204.9 468.8,205.0 469.6,205.0 470.4,205.0 471.2,205.0 472.0,205.0" fill="none" stroke="#f4a23c" stroke-width="1.4" stroke-linejoin="round" opacity="0.92"/>
<path d="M343.5,205.0 344.3,205.0 345.2,205.0 346.0,204.9 346.8,204.9 347.6,204.9 348.5,204.9 349.3,204.9 350.1,204.8 350.9,204.8 351.8,204.8 352.6,204.8 353.4,204.8 354.2,204.8 355.1,204.7 355.9,204.7 356.7,204.7 357.6,204.7 358.4,204.7 359.2,204.6 360.0,204.6 360.9,204.6 361.7,204.6 362.5,204.6 363.3,204.5 364.2,204.5 365.0,204.5 365.8,204.0 366.6,203.5 367.5,203.8 368.3,202.0 369.1,201.7 369.9,201.9 370.7,199.9 371.5,200.4 372.4,199.2 373.2,198.6 374.0,197.9 374.8,198.9 375.6,196.7 376.4,196.3 377.2,195.9 378.0,196.4 378.8,193.8 379.6,194.0 380.4,193.5 381.2,193.6 382.0,192.8 382.8,192.2 383.6,190.1 384.4,189.7 385.2,188.9 386.0,189.4 386.8,188.9 387.6,186.3 388.4,185.6 389.2,185.1 390.0,184.4 390.8,184.3 391.6,183.8 392.5,182.4 393.3,181.2 394.2,181.6 395.0,180.9 395.9,180.8 396.7,181.1 397.6,179.9 398.4,178.8 399.3,178.5 400.1,178.0 401.0,175.9 401.9,175.7 402.7,173.2 403.6,171.2 404.4,168.8 405.3,165.6 406.2,163.4 407.0,160.5 407.9,159.5 408.8,155.9 409.6,153.7 410.5,151.8 411.4,149.5 412.3,147.7 413.2,144.8 414.1,142.4 415.0,140.6 416.0,137.3 417.0,134.8 418.0,130.9 418.8,131.3 419.6,129.2 420.4,126.5 421.2,125.2 422.2,126.8 423.1,128.3 424.0,129.1 425.0,136.5 426.0,142.6 426.9,147.2 427.9,153.2 428.9,158.1 429.8,164.0 431.0,176.1 432.2,187.4 433.4,197.0 434.5,204.5 435.3,204.5 436.1,204.5 436.9,204.5 437.8,204.5 438.6,204.6 439.4,204.6 440.2,204.6 441.0,204.6 441.8,204.6 442.7,204.6 443.5,204.6 444.3,204.6 445.1,204.6 445.9,204.7 446.7,204.7 447.5,204.7 448.4,204.7 449.2,204.7 450.0,204.7 450.8,204.7 451.6,204.7 452.4,204.7 453.2,204.8 454.1,204.8 454.9,204.8 455.7,204.8 456.5,204.8 457.3,204.8 458.1,204.8 459.0,204.8 459.8,204.8 460.6,204.8 461.4,204.9 462.2,204.9 463.0,204.9 463.8,204.9 464.7,204.9 465.5,204.9 466.3,204.9 467.1,204.9 467.9,204.9 468.7,205.0 469.6,205.0 470.4,205.0 471.2,205.0 472.0,205.0" fill="none" stroke="#35b04e" stroke-width="1.4" stroke-linejoin="round" opacity="0.92"/>
<path d="M343.5,205.0 344.3,204.9 345.1,204.7 346.0,204.6 346.8,204.4 347.6,204.3 348.4,204.1 349.2,204.0 350.1,203.9 350.9,203.7 351.7,203.6 352.5,202.6 353.4,202.1 354.2,204.2 355.0,203.1 355.9,201.3 356.8,201.4 357.6,199.2 358.5,199.6 359.4,199.8 360.2,198.6 361.1,197.3 362.0,195.4 362.8,195.0 363.6,193.9 364.5,194.7 365.3,193.5 366.1,193.4 366.9,191.7 367.8,190.8 368.6,191.6 369.4,191.3 370.2,190.4 371.1,189.6 371.9,189.0 372.7,188.2 373.5,186.3 374.4,186.3 375.2,185.3 376.0,183.9 376.9,181.6 377.7,180.0 378.6,177.8 379.4,176.6 380.3,175.0 381.2,171.5 382.0,170.5 382.9,168.4 383.8,166.1 384.7,160.7 385.6,156.3 386.5,152.3 387.4,148.3 388.3,144.3 389.2,141.3 390.1,138.6 391.1,135.2 392.0,131.0 392.9,129.9 393.8,128.8 394.7,125.6 395.9,130.2 397.0,134.0 398.0,134.3 399.0,134.9 400.0,134.9 400.8,137.0 401.6,141.3 402.4,143.0 403.2,146.9 404.0,150.1 404.9,152.0 405.9,155.2 406.9,159.7 407.8,162.3 408.8,164.2 409.7,167.2 410.6,170.4 411.5,175.3 412.5,178.1 413.4,179.7 414.3,183.5 415.2,186.1 416.1,187.5 417.0,189.0 417.9,191.7 418.8,192.9 419.7,194.8 420.6,198.0 421.4,198.1 422.3,198.7 423.2,200.6 424.0,200.3 424.9,202.2 425.8,203.0 426.6,202.4 427.5,204.0 428.3,204.0 429.1,204.0 429.9,204.1 430.7,204.1 431.5,204.1 432.4,204.1 433.2,204.1 434.0,204.1 434.8,204.2 435.6,204.2 436.4,204.2 437.2,204.2 438.0,204.2 438.8,204.3 439.6,204.3 440.4,204.3 441.3,204.3 442.1,204.3 442.9,204.3 443.7,204.4 444.5,204.4 445.3,204.4 446.1,204.4 446.9,204.4 447.7,204.5 448.5,204.5 449.3,204.5 450.2,204.5 451.0,204.5 451.8,204.5 452.6,204.6 453.4,204.6 454.2,204.6 455.0,204.6 455.8,204.6 456.6,204.7 457.4,204.7 458.2,204.7 459.1,204.7 459.9,204.7 460.7,204.7 461.5,204.8 462.3,204.8 463.1,204.8 463.9,204.8 464.7,204.8 465.5,204.9 466.3,204.9 467.1,204.9 468.0,204.9 468.8,204.9 469.6,204.9 470.4,205.0 471.2,205.0 472.0,205.0" fill="none" stroke="#e2383f" stroke-width="1.4" stroke-linejoin="round" opacity="0.92"/>
<path d="M343.5,205.0 344.3,204.8 345.1,204.5 345.9,204.2 346.8,204.0 347.6,203.8 348.4,203.5 349.2,202.7 350.0,202.5 350.8,201.0 351.6,200.4 352.4,198.2 353.2,197.2 354.0,195.1 354.8,195.4 355.6,192.5 356.4,191.2 357.2,190.0 358.0,189.2 358.8,186.5 359.6,186.2 360.4,183.6 361.2,182.1 362.0,180.6 362.9,177.3 363.7,176.2 364.6,173.6 365.4,171.1 366.3,170.9 367.1,167.4 368.0,166.0 368.8,164.6 369.7,162.1 370.9,163.6 372.0,166.0 373.0,159.5 374.0,153.3 375.0,145.1 375.8,143.7 376.6,140.6 377.4,138.3 378.2,137.1 379.0,134.0 380.0,132.1 381.0,130.6 382.0,130.0 383.0,127.9 384.0,127.3 385.0,128.0 386.0,129.0 387.0,130.5 388.0,128.9 389.0,128.1 390.0,126.9 391.0,130.1 392.0,131.5 393.0,140.9 394.0,150.1 394.9,151.6 395.8,155.5 396.8,159.7 397.7,162.6 398.6,164.1 399.5,166.7 400.4,170.0 401.3,171.7 402.2,174.7 403.1,176.9 404.0,180.9 404.9,182.6 405.7,184.3 406.6,183.9 407.4,186.7 408.3,187.9 409.1,188.1 410.0,191.3 410.8,192.9 411.7,192.5 412.5,195.7 413.4,195.8 414.2,196.6 415.1,198.4 415.9,198.6 416.8,197.6 417.6,198.9 418.5,199.7 419.3,199.9 420.2,200.2 421.0,201.1 421.9,202.7 422.7,201.6 423.6,203.5 424.4,204.0 425.2,204.0 426.0,204.0 426.8,204.1 427.6,204.1 428.4,204.1 429.2,204.1 430.0,204.1 430.9,204.1 431.7,204.2 432.5,204.2 433.3,204.2 434.1,204.2 434.9,204.2 435.7,204.2 436.5,204.3 437.3,204.3 438.1,204.3 438.9,204.3 439.7,204.3 440.5,204.3 441.3,204.4 442.1,204.4 443.0,204.4 443.8,204.4 444.6,204.4 445.4,204.4 446.2,204.5 447.0,204.5 447.8,204.5 448.6,204.5 449.4,204.5 450.2,204.5 451.0,204.6 451.8,204.6 452.6,204.6 453.4,204.6 454.3,204.6 455.1,204.6 455.9,204.7 456.7,204.7 457.5,204.7 458.3,204.7 459.1,204.7 459.9,204.7 460.7,204.8 461.5,204.8 462.3,204.8 463.1,204.8 463.9,204.8 464.7,204.8 465.5,204.9 466.4,204.9 467.2,204.9 468.0,204.9 468.8,204.9 469.6,204.9 470.4,205.0 471.2,205.0 472.0,205.0" fill="none" stroke="#4860c0" stroke-width="1.4" stroke-linejoin="round" opacity="0.92"/>
<path d="M344.5,205.0 345.0,190.9 345.6,201.8 347.0,201.1 348.0,200.6 349.0,199.2 350.0,197.0 350.9,197.0 351.8,194.3 352.6,192.6 353.5,188.3 354.4,186.5 355.2,183.8 356.1,183.4 357.0,179.9 357.8,177.3 358.6,175.6 359.4,174.4 360.2,171.9 361.0,168.2 361.8,165.6 362.6,165.1 363.4,161.9 364.2,159.8 365.0,156.0 365.8,152.7 366.6,151.1 367.4,147.2 368.2,143.2 369.0,142.1 370.0,136.8 371.0,132.7 372.0,129.7 373.0,130.2 374.0,127.0 375.0,130.4 376.0,130.9 377.0,128.6 378.0,127.1 379.0,130.0 380.0,130.4 381.0,128.4 382.0,127.6 383.0,130.1 384.0,133.1 384.9,138.9 385.9,144.4 386.8,150.5 387.7,156.5 388.5,158.5 389.4,161.5 390.2,162.4 391.1,164.8 391.9,166.0 392.8,168.4 393.6,169.6 394.4,172.1 395.3,173.5 396.1,177.1 397.0,178.7 397.8,179.8 398.7,182.2 399.5,185.0 400.4,184.7 401.3,188.2 402.1,188.9 403.0,190.8 403.9,193.4 404.7,194.0 405.6,196.0 406.5,197.2 407.3,198.7 408.2,198.0 409.1,199.9 409.9,200.4 410.8,201.0 411.7,201.2 412.5,201.9 413.4,201.9 414.2,202.3 415.0,202.3 415.9,203.6 416.7,203.8 417.5,203.9 418.4,204.1 419.2,204.3 420.0,204.5 420.8,204.5 421.6,204.5 422.4,204.5 423.2,204.5 424.0,204.5 424.8,204.5 425.6,204.6 426.4,204.6 427.2,204.6 428.0,204.6 428.8,204.6 429.6,204.6 430.4,204.6 431.2,204.6 432.0,204.6 432.8,204.6 433.6,204.6 434.4,204.6 435.2,204.6 436.0,204.7 436.8,204.7 437.6,204.7 438.4,204.7 439.2,204.7 440.0,204.7 440.8,204.7 441.6,204.7 442.4,204.7 443.2,204.7 444.0,204.7 444.8,204.7 445.6,204.7 446.4,204.8 447.2,204.8 448.0,204.8 448.8,204.8 449.6,204.8 450.4,204.8 451.2,204.8 452.0,204.8 452.8,204.8 453.6,204.8 454.4,204.8 455.2,204.8 456.0,204.8 456.8,204.9 457.6,204.9 458.4,204.9 459.2,204.9 460.0,204.9 460.8,204.9 461.6,204.9 462.4,204.9 463.2,204.9 464.0,204.9 464.8,204.9 465.6,204.9 466.4,204.9 467.2,205.0 468.0,205.0 468.8,205.0 469.6,205.0 470.4,205.0 471.2,205.0 472.0,205.0" fill="none" stroke="#2a2a2a" stroke-width="1.4" stroke-linejoin="round" opacity="0.92"/>
<defs>
<clipPath id="imgclip"><rect x="627" y="117.5" width="164" height="156.5"/></clipPath>
<filter id="rnoise" x="627" y="117.5" width="164" height="156.5" filterUnits="userSpaceOnUse" color-interpolation-filters="sRGB">
 <feTurbulence type="fractalNoise" baseFrequency="0.09" numOctaves="2" seed="21" result="n1"/>
 <feTurbulence type="fractalNoise" baseFrequency="0.4" numOctaves="3" seed="5" result="n2"/>
 <feComposite in="n1" in2="n2" operator="arithmetic" k1="0" k2="0.6" k3="0.6" k4="0" result="n"/>
 <feColorMatrix in="n" type="matrix" values="1.9 0 0 0 -0.36  0.190 0 0 0 -0.036  0.266 0 0 0 -0.050  0 0 0 0 1"/>
 <feGaussianBlur stdDeviation="0.55"/>
</filter>
<filter id="dblur" x="-50%" y="-50%" width="200%" height="200%"><feTurbulence type="fractalNoise" baseFrequency="0.18" numOctaves="2" seed="9" result="t"/><feDisplacementMap in="SourceGraphic" in2="t" scale="10" xChannelSelector="R" yChannelSelector="G" result="d"/><feGaussianBlur in="d" stdDeviation="1.0"/></filter>
<filter id="bblur" x="-50%" y="-50%" width="200%" height="200%"><feGaussianBlur stdDeviation="5"/></filter>
<filter id="gblur" x="-100%" y="-100%" width="300%" height="300%"><feGaussianBlur stdDeviation="0.7"/></filter>
</defs>
<g clip-path="url(#imgclip)">
<rect x="627" y="117.5" width="164" height="156.5" fill="#000" filter="url(#rnoise)"/>
<g filter="url(#bblur)">
<ellipse cx="650" cy="204" rx="22" ry="9" fill="#d8283a" opacity="0.35"/>
<ellipse cx="653" cy="236" rx="20" ry="8" fill="#d8283a" opacity="0.3"/>
<ellipse cx="640" cy="160" rx="12" ry="18" fill="#d8283a" opacity="0.3"/>
<ellipse cx="690" cy="125" rx="15" ry="8" fill="#d8283a" opacity="0.25"/>
<ellipse cx="781" cy="130" rx="7" ry="5" fill="#d8283a" opacity="0.3"/>
<ellipse cx="700" cy="175" rx="10" ry="12" fill="#d8283a" opacity="0.2"/>
</g>
<g filter="url(#dblur)">
<ellipse cx="632" cy="135" rx="5" ry="7" transform="rotate(0 632 135)" fill="#100404" opacity="0.95"/>
<ellipse cx="638" cy="142" rx="6" ry="2" transform="rotate(10 638 142)" fill="#100404" opacity="0.84"/>
<ellipse cx="681" cy="138" rx="7" ry="6" transform="rotate(0 681 138)" fill="#100404" opacity="0.84"/>
<ellipse cx="660" cy="127" rx="3" ry="6" transform="rotate(0 660 127)" fill="#100404" opacity="0.84"/>
<ellipse cx="660" cy="119.5" rx="8" ry="2" transform="rotate(0 660 119.5)" fill="#100404" opacity="0.84"/>
<ellipse cx="657" cy="153" rx="8" ry="3" transform="rotate(40 657 153)" fill="#100404" opacity="0.9"/>
<ellipse cx="657" cy="168" rx="3" ry="7" transform="rotate(0 657 168)" fill="#100404" opacity="0.84"/>
<ellipse cx="635" cy="175" rx="6" ry="6" transform="rotate(0 635 175)" fill="#100404" opacity="0.9"/>
<ellipse cx="665" cy="189" rx="12" ry="3" transform="rotate(0 665 189)" fill="#100404" opacity="0.95"/>
<ellipse cx="756" cy="140" rx="4" ry="11" transform="rotate(0 756 140)" fill="#100404" opacity="0.84"/>
<ellipse cx="750" cy="180" rx="4" ry="6" transform="rotate(0 750 180)" fill="#100404" opacity="0.72"/>
<ellipse cx="710" cy="158" rx="4" ry="3" transform="rotate(30 710 158)" fill="#100404" opacity="0.72"/>
<ellipse cx="787" cy="147" rx="4" ry="11" transform="rotate(0 787 147)" fill="#100404" opacity="0.6"/>
<ellipse cx="630" cy="233" rx="3.5" ry="21" transform="rotate(0 630 233)" fill="#100404" opacity="0.95"/>
<ellipse cx="665" cy="223" rx="7" ry="5" transform="rotate(0 665 223)" fill="#100404" opacity="0.95"/>
<ellipse cx="642" cy="227" rx="4" ry="5" transform="rotate(0 642 227)" fill="#100404" opacity="0.95"/>
<ellipse cx="660" cy="251" rx="13" ry="5" transform="rotate(0 660 251)" fill="#100404" opacity="0.95"/>
<ellipse cx="687" cy="214" rx="2" ry="2" transform="rotate(0 687 214)" fill="#100404" opacity="0.84"/>
<ellipse cx="704" cy="225" rx="5" ry="16" transform="rotate(0 704 225)" fill="#100404" opacity="0.72"/>
<ellipse cx="686" cy="258" rx="10" ry="4" transform="rotate(0 686 258)" fill="#100404" opacity="0.72"/>
<ellipse cx="640" cy="268" rx="14" ry="5" transform="rotate(0 640 268)" fill="#100404" opacity="0.6"/>
<ellipse cx="723" cy="222" rx="17" ry="16" transform="rotate(0 723 222)" fill="#100404" opacity="0.74"/>
<ellipse cx="787" cy="212" rx="3.5" ry="3.5" transform="rotate(0 787 212)" fill="#100404" opacity="0.72"/>
<ellipse cx="773" cy="252" rx="4" ry="3" transform="rotate(0 773 252)" fill="#100404" opacity="0.72"/>
<ellipse cx="765" cy="240" rx="28" ry="36" transform="rotate(0 765 240)" fill="#100404" opacity="0.36"/>
<ellipse cx="750" cy="160" rx="42" ry="42" transform="rotate(0 750 160)" fill="#100404" opacity="0.24"/>
<ellipse cx="645" cy="188" rx="8" ry="2.5" transform="rotate(0 645 188)" fill="#100404" opacity="0.8"/>
<ellipse cx="660" cy="120" rx="6" ry="2" transform="rotate(0 660 120)" fill="#100404" opacity="0.7"/>
<ellipse cx="700" cy="186" rx="10" ry="2" transform="rotate(20 700 186)" fill="#100404" opacity="0.5"/>
<ellipse cx="760" cy="193" rx="8" ry="3" transform="rotate(0 760 193)" fill="#100404" opacity="0.5"/>
<ellipse cx="740" cy="262" rx="12" ry="3" transform="rotate(0 740 262)" fill="#100404" opacity="0.4"/>
</g>
<g filter="url(#gblur)">
<circle cx="761" cy="124" r="1.1" fill="#50cc50" opacity="0.8"/>
<circle cx="761" cy="128" r="1.1" fill="#50cc50" opacity="0.8"/>
<circle cx="762" cy="131" r="1.1" fill="#50cc50" opacity="0.8"/>
<circle cx="778" cy="141" r="2.5" fill="#50cc50" opacity="0.8"/>
<circle cx="721" cy="144" r="1.6" fill="#50cc50" opacity="0.8"/>
<circle cx="741" cy="146" r="1.1" fill="#50cc50" opacity="0.8"/>
<circle cx="711" cy="178" r="2" fill="#50cc50" opacity="0.8"/>
<circle cx="708" cy="189" r="1.6" fill="#50cc50" opacity="0.8"/>
<circle cx="775" cy="168" r="1.1" fill="#50cc50" opacity="0.8"/>
<circle cx="748" cy="161" r="1.1" fill="#50cc50" opacity="0.8"/>
<circle cx="754" cy="166" r="1.1" fill="#50cc50" opacity="0.8"/>
<circle cx="735" cy="120" r="1.1" fill="#50cc50" opacity="0.8"/>
<circle cx="646" cy="164" r="1.6" fill="#50cc50" opacity="0.8"/>
<circle cx="672" cy="164" r="1.1" fill="#50cc50" opacity="0.8"/>
<circle cx="693" cy="140" r="1.1" fill="#50cc50" opacity="0.8"/>
<circle cx="632" cy="216" r="1.1" fill="#50cc50" opacity="0.8"/>
<circle cx="700" cy="244" r="1.1" fill="#50cc50" opacity="0.8"/>
<circle cx="724" cy="240" r="1.6" fill="#50cc50" opacity="0.8"/>
<circle cx="728" cy="246" r="1.6" fill="#50cc50" opacity="0.8"/>
<circle cx="731" cy="251" r="1.6" fill="#50cc50" opacity="0.8"/>
<circle cx="734" cy="255" r="1.1" fill="#50cc50" opacity="0.8"/>
<circle cx="719" cy="218" r="1.1" fill="#50cc50" opacity="0.8"/>
<circle cx="737" cy="230" r="1.1" fill="#50cc50" opacity="0.8"/>
<circle cx="752.6" cy="205" r="1.1" fill="#50cc50" opacity="0.8"/>
<circle cx="789" cy="237" r="2" fill="#50cc50" opacity="0.8"/>
<circle cx="786" cy="263" r="1.1" fill="#50cc50" opacity="0.8"/>
<circle cx="781" cy="226" r="1.1" fill="#50cc50" opacity="0.8"/>
<circle cx="753" cy="233" r="1.1" fill="#50cc50" opacity="0.8"/>
</g></g>
</svg>
</body></html>
